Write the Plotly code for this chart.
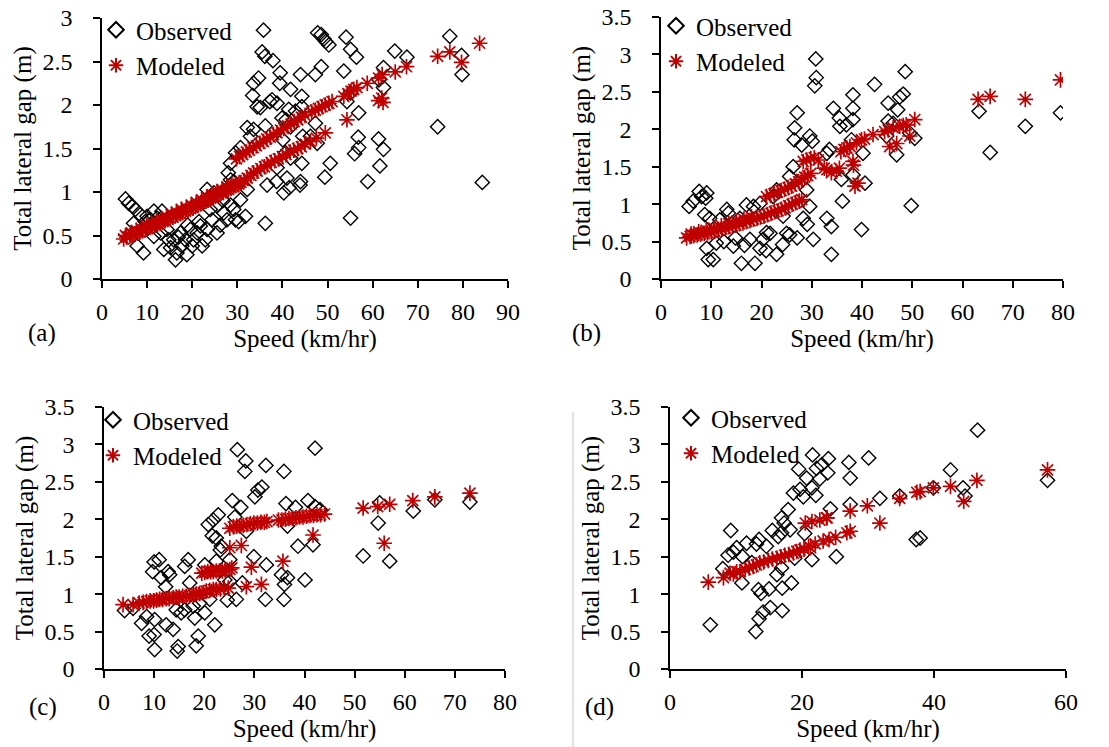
import plotly.graph_objects as go

# ---------------- DATA ----------------
# Panel (a)
obs_a_speed = [35.8, 47.8, 48.6, 49.2, 49.6, 50.3, 54.1, 55.1, 56.4, 64.9, 67.6, 77.1, 79.7, 79.8, 74.4, 84.3,
               62.4, 62.4, 61.4, 61.3, 62.4, 61.6, 58.9, 55.1, 56.9, 56.8, 56.9, 56.0, 53.6, 54.3, 50.6, 49.4,
               55.1, 47.3, 48.6, 47.3, 47.7, 46.2, 44.3, 44.0, 44.3, 44.5, 44.3, 44.0, 43.9, 41.8, 39.5, 39.4,
               37.9, 38.8, 37.7, 37.2, 39.9, 41.4, 42.9, 40.8, 41.8, 40.1, 40.7, 41.8, 41.0, 40.3, 41.5, 38.7,
               36.6, 38.8, 36.2, 35.5, 36.1, 34.7, 33.6, 33.4, 34.4, 35.1, 36.2, 33.6, 32.2, 32.9, 30.7, 29.6,
               28.5, 28.0, 28.5, 32.2, 30.7, 31.8, 29.6, 30.3, 29.2, 28.5, 23.3, 24.8, 26.2, 24.4, 22.9, 22.2,
               18.8, 17.7, 16.3, 15.2, 13.7, 13.3, 11.5, 9.2, 7.8, 5.2, 5.9, 6.7, 7.4, 8.5, 7.0, 10.0,
               10.7, 19.6, 20.3, 21.1, 20.0, 17.4, 15.9, 23.3, 25.5, 21.8, 14.4, 13.0, 11.5, 16.6, 18.5, 27.0,
               27.7, 25.5, 29.2, 12.2, 14.8, 16.9, 19.0, 21.5, 9.6, 24.0, 26.8]
obs_a_gap = [2.86, 2.83, 2.81, 2.76, 2.73, 2.69, 2.78, 2.64, 2.55, 2.62, 2.55, 2.79, 2.57, 2.35, 1.75, 1.11,
             2.43, 2.20, 2.29, 1.61, 1.49, 1.30, 1.12, 0.70, 1.91, 1.63, 1.51, 1.44, 2.39, 2.04, 1.33, 1.17,
             2.14, 2.35, 2.44, 1.79, 1.56, 1.64, 2.10, 2.35, 1.98, 1.64, 1.33, 1.12, 1.08, 2.18, 2.37, 2.25,
             2.51, 2.02, 2.06, 2.04, 1.85, 1.95, 1.93, 1.83, 1.75, 1.60, 1.45, 1.39, 1.16, 0.99, 1.05, 1.12,
             1.08, 1.28, 0.64, 2.61, 2.56, 2.31, 2.25, 2.11, 1.98, 1.97, 1.76, 1.72, 1.74, 1.64, 1.51, 1.45,
             1.33, 1.22, 1.14, 1.03, 0.91, 0.72, 0.68, 0.66, 0.80, 0.85, 1.03, 0.99, 0.62, 0.68, 0.45, 0.38,
             0.28, 0.38, 0.22, 0.36, 0.34, 0.78, 0.78, 0.30, 0.38, 0.92, 0.87, 0.84, 0.80, 0.74, 0.64, 0.72,
             0.68, 0.57, 0.45, 0.53, 0.38, 0.53, 0.45, 0.57, 0.53, 0.61, 0.57, 0.53, 0.49, 0.30, 0.45, 0.76,
             0.68, 0.84, 1.12, 0.70, 0.45, 0.48, 0.62, 0.66, 0.66, 0.80, 0.90]
mod_a_speed = [4.8, 5.5, 6.2, 6.8, 7.3, 7.9, 8.4, 9.0, 9.6, 10.1, 10.7, 11.2, 11.8, 12.3, 12.9, 13.5, 14.0,
               14.6, 15.1, 15.7, 16.3, 16.8, 17.4, 17.9, 18.5, 19.1, 19.6, 20.2, 20.8, 21.3, 21.9, 22.4,
               23.0, 23.6, 24.1, 24.7, 25.2, 25.8, 26.4, 26.9, 27.5, 28.0, 28.6, 29.2, 29.7, 30.3,
               5.2, 6.5, 7.6, 8.7, 9.9, 11.0, 12.1, 13.2, 14.3, 15.4, 16.5, 17.6, 18.7, 19.8, 20.9, 22.1,
               23.2, 24.4, 25.5, 26.6, 27.7, 28.8,
               30.8, 31.5, 32.2, 33.0, 33.6, 34.4, 35.2, 36.0, 36.6, 37.5, 38.3, 39.1, 40.0, 40.8, 41.7,
               42.5, 43.4, 44.2, 45.0, 46.2, 47.5, 49.5,
               29.8, 30.5, 31.2, 32.0, 32.7, 33.5, 34.2, 35.0, 35.8, 36.5, 37.3, 38.0, 38.8, 39.6, 40.3,
               41.1, 41.9, 42.6, 43.4, 44.2, 45.0, 46.5, 47.3, 48.0, 48.8, 49.5, 50.3, 51.0, 53.6, 54.5,
               55.2, 55.8, 56.5, 58.8, 61.3, 62.1, 65.0, 67.5, 74.4, 77.1, 79.7, 83.7,
               54.3, 61.3, 62.0, 62.3]
mod_a_gap = [0.46, 0.48, 0.49, 0.51, 0.52, 0.53, 0.54, 0.56, 0.57, 0.58, 0.60, 0.61, 0.62, 0.63, 0.65, 0.66,
             0.67, 0.69, 0.70, 0.71, 0.73, 0.74, 0.75, 0.77, 0.78, 0.79, 0.81, 0.82, 0.84, 0.85, 0.87, 0.88,
             0.90, 0.91, 0.93, 0.94, 0.96, 0.97, 0.99, 1.00, 1.02, 1.03, 1.05, 1.06, 1.08, 1.09,
             0.50, 0.53, 0.56, 0.58, 0.61, 0.64, 0.66, 0.69, 0.72, 0.74, 0.77, 0.80, 0.82, 0.85, 0.88, 0.91,
             0.94, 0.97, 1.00, 1.03, 1.06, 1.09,
             1.11, 1.13, 1.16, 1.19, 1.22, 1.24, 1.27, 1.29, 1.31, 1.34, 1.36, 1.38, 1.41, 1.43, 1.46,
             1.48, 1.50, 1.52, 1.55, 1.58, 1.62, 1.68,
             1.38, 1.41, 1.43, 1.46, 1.48, 1.51, 1.53, 1.56, 1.58, 1.61, 1.63, 1.66, 1.68, 1.71, 1.73,
             1.76, 1.78, 1.81, 1.83, 1.86, 1.88, 1.92, 1.94, 1.96, 1.98, 2.00, 2.02, 2.04, 2.10, 2.13,
             2.16, 2.18, 2.20, 2.25, 2.31, 2.35, 2.38, 2.44, 2.56, 2.61, 2.49, 2.71,
             1.83, 2.05, 2.08, 2.03]

# Panel (b)
obs_b_speed = [30.8, 30.9, 30.6, 42.5, 48.6, 48.2, 47.5, 45.2, 47.1, 45.2, 46.2, 50.5, 49.5, 46.9, 49.8,
               38.2, 38.2, 38.2, 34.3, 35.5, 35.6, 36.9, 37.9, 33.5, 33.0, 35.9, 38.2, 40.6, 36.1, 33.0,
               33.9, 33.9, 39.9, 40.2, 27.1, 26.6, 26.5, 28.0, 29.6, 30.1, 26.3, 25.6, 29.0, 29.6, 28.3,
               29.1, 30.3, 27.1, 25.6, 24.2, 23.0, 21.7, 20.3, 19.7, 20.9, 18.7, 16.0, 17.7, 17.0, 19.7,
               18.4, 15.7, 14.4, 13.1, 13.4, 11.7, 10.4, 9.4, 9.1, 8.7, 9.7, 8.1, 7.6, 9.1, 8.9, 6.4, 5.6,
               23.0, 22.3, 24.3, 25.0, 63.3, 65.5, 72.5, 79.5, 44.9, 12.5, 14.8, 16.6, 21.0, 11.0]
obs_b_gap = [2.94, 2.69, 2.58, 2.60, 2.77, 2.47, 2.43, 2.35, 2.26, 2.11, 2.08, 1.88, 1.95, 1.66, 0.98,
             2.46, 2.28, 2.13, 2.28, 2.15, 2.04, 2.06, 1.86, 1.73, 1.68, 1.33, 1.39, 1.28, 1.04, 0.81,
             0.70, 0.33, 0.66, 1.68, 2.22, 2.02, 1.86, 1.79, 1.91, 1.84, 1.50, 1.37, 1.19, 0.97, 0.81,
             0.73, 0.53, 0.55, 0.59, 0.46, 0.33, 0.61, 0.53, 0.41, 0.38, 0.21, 0.21, 0.53, 0.99, 1.01,
             0.97, 0.81, 0.44, 0.93, 0.88, 0.79, 0.26, 0.26, 0.41, 0.86, 0.81, 1.10, 1.17, 1.15, 1.08, 1.04, 0.97,
             1.19, 1.10, 0.84, 0.61, 2.24, 1.69, 2.04, 2.22, 1.91, 0.50, 0.55, 0.45, 0.62, 0.48]
mod_b_speed = [5.1, 5.8, 6.5, 7.2, 7.9, 8.6, 9.3, 10.0, 10.7, 11.4, 12.1, 12.8, 13.5, 14.2, 14.9, 15.6, 16.3,
               17.0, 17.7, 18.4, 19.1, 19.8, 20.5, 21.2, 21.9, 22.6, 23.3, 24.0, 24.7, 25.4, 26.1, 26.8,
               27.5, 28.0, 6.0, 7.5, 9.0, 10.5, 12.0, 13.5, 15.0, 16.5, 18.0,
               21.0, 21.8, 22.5, 23.2, 23.9, 24.6, 25.3, 26.0, 26.7, 27.4, 28.0, 28.6, 29.2, 29.8,
               28.3, 29.0, 29.8, 30.5, 31.3, 32.5, 33.0, 33.9, 34.9, 35.5, 35.8, 36.4, 37.0, 37.6, 38.2,
               38.3, 38.6, 39.2, 38.9, 39.9, 40.5, 42.2, 44.5, 45.2, 45.5, 46.2, 46.9, 47.5, 48.2, 48.8,
               49.5, 50.5, 63.1, 65.5, 72.5, 79.5]
mod_b_gap = [0.55, 0.57, 0.58, 0.59, 0.60, 0.61, 0.62, 0.63, 0.64, 0.66, 0.67, 0.68, 0.70, 0.71, 0.72, 0.74,
             0.75, 0.77, 0.78, 0.80, 0.81, 0.83, 0.84, 0.86, 0.88, 0.90, 0.91, 0.93, 0.95, 0.98, 1.00,
             1.02, 1.04, 1.06, 0.60, 0.63, 0.65, 0.68, 0.71, 0.74, 0.77, 0.80, 0.83,
             1.10, 1.12, 1.14, 1.16, 1.18, 1.20, 1.22, 1.24, 1.27, 1.30, 1.33, 1.36, 1.38, 1.41,
             1.57, 1.59, 1.61, 1.62, 1.59, 1.48, 1.46, 1.42, 1.44, 1.48, 1.70, 1.73, 1.75, 1.77, 1.57,
             1.52, 1.24, 1.28, 1.82, 1.86, 1.87, 1.93, 1.97, 1.99, 1.77, 2.02, 1.81, 2.04, 2.05, 2.06,
             1.91, 2.13, 2.40, 2.44, 2.40, 2.66]

# Panel (c)
obs_c_speed = [26.6, 42.1, 28.3, 28.1, 32.3, 35.9, 31.5, 30.7, 30.1, 25.6, 27.3, 26.1, 36.3, 38.2, 40.7,
               42.1, 43.1, 36.6, 28.4, 22.8, 21.8, 20.8, 21.6, 22.4, 23.4, 23.2, 38.7, 41.7, 51.7, 54.7,
               57.0, 55.0, 61.7, 66.0, 73.0, 35.4, 36.6, 36.0, 40.1, 35.9, 32.2, 32.4, 29.9, 27.6, 26.4,
               24.6, 25.1, 25.1, 22.4, 20.1, 22.1, 20.1, 18.8, 18.4, 14.8, 14.6, 13.8, 12.4, 10.1, 10.0,
               9.0, 7.5, 8.5, 10.1, 4.1, 5.8, 9.7, 10.0, 11.0, 11.4, 12.8, 13.1, 12.3, 16.1, 16.8, 17.1,
               14.4, 15.4, 16.1, 18.1, 17.8, 19.1, 21.1, 24.1]
obs_c_gap = [2.93, 2.95, 2.78, 2.64, 2.72, 2.64, 2.43, 2.39, 2.30, 2.25, 2.16, 2.03, 2.21, 2.16, 2.25,
             2.17, 2.13, 1.91, 1.84, 2.06, 1.99, 1.93, 1.78, 1.75, 1.64, 1.59, 1.64, 1.66, 1.51, 1.95,
             1.44, 2.22, 2.11, 2.26, 2.23, 1.26, 1.22, 1.13, 1.19, 0.93, 0.93, 1.39, 1.50, 1.15, 0.93,
             0.92, 1.17, 1.46, 1.44, 1.39, 0.59, 0.75, 0.44, 0.31, 0.30, 0.24, 0.53, 0.59, 0.26, 0.46,
             0.44, 0.61, 0.70, 0.66, 0.78, 0.81, 1.30, 1.43, 1.46, 1.22, 1.30, 1.26, 1.10, 1.37, 1.46, 1.15,
             0.79, 0.75, 0.79, 0.68, 0.84, 0.88, 0.93, 1.19]
mod_c_speed = [3.8, 5.8, 7.0, 7.8, 8.5, 9.2, 9.9, 10.5, 11.1, 11.7, 12.4, 13.0, 13.8, 14.4, 15.0, 15.7, 16.4,
               17.1, 17.8, 18.4, 19.1, 19.8, 20.4, 21.1, 21.8, 22.4, 23.2, 24.0, 24.8,
               19.5, 20.1, 20.7, 21.3, 21.8, 22.4, 23.0, 23.6, 24.2, 25.1, 25.5,
               25.1, 27.4, 29.4, 28.4, 31.4, 35.7, 41.7, 55.9,
               25.1, 25.8, 26.5, 27.1, 27.8, 28.5, 29.2, 29.9, 30.6, 31.3, 32.0, 32.5, 34.8, 35.5, 36.2,
               36.9, 37.6, 38.3, 39.0, 39.7, 40.4, 41.1, 41.8, 42.5, 43.2, 44.0, 51.7, 54.6, 57.0, 61.6,
               66.0, 73.0]
mod_c_gap = [0.86, 0.86, 0.88, 0.89, 0.90, 0.91, 0.91, 0.92, 0.93, 0.93, 0.94, 0.94, 0.95, 0.96, 0.96, 0.97,
             0.97, 0.98, 0.99, 1.00, 1.01, 1.02, 1.04, 1.05, 1.06, 1.06, 1.07, 1.08, 1.08,
             1.28, 1.29, 1.30, 1.30, 1.30, 1.31, 1.31, 1.31, 1.32, 1.33, 1.35,
             1.62, 1.65, 1.36, 1.10, 1.13, 1.44, 1.79, 1.68,
             1.88, 1.90, 1.91, 1.91, 1.92, 1.93, 1.94, 1.95, 1.95, 1.96, 1.96, 1.97, 1.99, 1.99, 2.00,
             2.01, 2.01, 2.02, 2.03, 2.03, 2.04, 2.05, 2.05, 2.06, 2.06, 2.07, 2.15, 2.17, 2.20, 2.25,
             2.30, 2.35]

# Panel (d)
obs_d_speed = [46.6, 21.6, 24.0, 30.1, 27.1, 23.0, 22.2, 19.5, 42.5, 23.9, 20.7, 27.3, 22.7, 57.2, 21.5,
               44.4, 39.9, 18.7, 19.7, 20.2, 22.1, 31.8, 34.8, 44.7, 27.3, 24.3, 17.9, 16.9, 17.3, 20.4,
               15.5, 16.4, 16.9, 37.3, 37.9, 9.2, 13.5, 13.1, 11.6, 14.6, 10.1, 9.6, 8.8, 11.0, 18.9,
               21.5, 25.2, 8.0, 16.9, 16.2, 10.9, 18.4, 17.0, 15.0, 13.4, 13.8, 15.2, 14.1, 17.0, 13.5,
               13.0, 6.1, 12.4, 18.2]
obs_d_gap = [3.19, 2.86, 2.81, 2.82, 2.76, 2.73, 2.68, 2.67, 2.66, 2.62, 2.55, 2.55, 2.54, 2.52, 2.42,
             2.42, 2.42, 2.35, 2.40, 2.30, 2.32, 2.28, 2.31, 2.31, 2.20, 2.14, 2.13, 2.02, 1.95, 1.81,
             1.85, 1.77, 1.82, 1.73, 1.75, 1.85, 1.73, 1.67, 1.68, 1.64, 1.62, 1.56, 1.52, 1.50, 1.48,
             1.46, 1.50, 1.34, 1.35, 1.26, 1.15, 1.15, 1.08, 1.07, 1.06, 1.01, 0.82, 0.76, 0.78, 0.67,
             0.50, 0.59, 1.42, 1.86]
mod_d_speed = [5.8, 8.1, 9.1, 10.1, 11.4, 12.6, 13.6, 14.9, 16.2, 17.4, 18.7, 19.7, 21.0, 22.0, 23.2, 24.1,
               25.1, 26.8, 27.3, 20.5, 21.5, 22.7, 23.7, 27.3, 29.9, 31.8, 34.8, 37.4, 37.9, 39.9, 42.5,
               44.5, 46.5, 57.2, 9.6, 10.6, 12.0, 13.1, 14.2, 15.5, 16.8, 18.0, 19.2, 20.3, 21.3, 23.8]
mod_d_gap = [1.16, 1.22, 1.28, 1.30, 1.33, 1.37, 1.42, 1.45, 1.48, 1.52, 1.55, 1.59, 1.64, 1.67, 1.71, 1.73,
             1.76, 1.82, 1.84, 1.95, 1.97, 1.99, 2.02, 2.11, 2.18, 1.95, 2.28, 2.36, 2.37, 2.42, 2.44,
             2.24, 2.52, 2.66, 1.27, 1.30, 1.35, 1.39, 1.43, 1.47, 1.50, 1.53, 1.57, 1.60, 1.62, 2.02]

x_ranges = [[0, 90], [0, 80], [0, 80], [0, 60]]
x_dticks = [10, 10, 10, 20]
y_ranges = [[0, 3], [0, 3.5], [0, 3.5], [0, 3.5]]
panel_labels = ["(a)", "(b)", "(c)", "(d)"]
legend_names = ["Observed", "Modeled"]

# ---------------- STYLE ----------------
FONT = "Liberation Serif"
RED = "#C00000"
W, H = 1109, 747

# plot area pixel boxes (left, right, top, bottom)
boxes = [(102, 508, 18, 279), (661, 1063, 17, 279), (104, 505, 407, 669), (670, 1066, 407, 669)]
legend_pos = [(96, 7), (656, 3), (93, 397), (671, 395)]
label_pos = [(26, 333), (586, 333), (27, 723), (600, 723)]

obs = [(obs_a_speed, obs_a_gap), (obs_b_speed, obs_b_gap), (obs_c_speed, obs_c_gap), (obs_d_speed, obs_d_gap)]
mod = [(mod_a_speed, mod_a_gap), (mod_b_speed, mod_b_gap), (mod_c_speed, mod_c_gap), (mod_d_speed, mod_d_gap)]

fig = go.Figure()
layout = dict(
    width=W, height=H, margin=dict(l=0, r=0, t=0, b=0, autoexpand=False),
    paper_bgcolor="white", plot_bgcolor="white",
    font=dict(family=FONT, size=24, color="black"),
    showlegend=True, annotations=[], shapes=[],
)

for i in range(4):
    sfx = "" if i == 0 else str(i + 1)
    l, r, t, b = boxes[i]
    xa = dict(domain=[l / W, r / W], range=x_ranges[i], dtick=x_dticks[i], tick0=0,
              anchor="y" + sfx, showline=True, linecolor="black", linewidth=1.5,
              ticks="outside", ticklen=7, tickwidth=1.5, tickcolor="black", automargin=False,
              showgrid=False, zeroline=False, tickfont=dict(size=24, family=FONT),
              ticklabelstandoff=3,
              title=dict(text="Speed (km/hr)", font=dict(size=25, family=FONT), standoff=6))
    ya = dict(domain=[1 - b / H, 1 - t / H], range=y_ranges[i], dtick=0.5, tick0=0,
              anchor="x" + sfx, showline=True, linecolor="black", linewidth=1.5,
              ticks="outside", ticklen=7, tickwidth=1.5, tickcolor="black", automargin=False,
              showgrid=False, zeroline=False, tickfont=dict(size=24, family=FONT),
              ticklabelstandoff=16,
              title=dict(text="Total lateral gap (m)", font=dict(size=25, family=FONT), standoff=4))
    layout["xaxis" + sfx] = xa
    layout["yaxis" + sfx] = ya
    lg = "legend" + sfx
    lx, ly = legend_pos[i]
    layout[lg] = dict(x=lx / W, y=1 - ly / H, xanchor="left", yanchor="top",
                      bgcolor="rgba(0,0,0,0)", font=dict(size=25, family=FONT),
                      tracegroupgap=0, itemsizing="constant")
    fig.add_trace(go.Scatter(
        x=obs[i][0], y=obs[i][1], mode="markers", name=legend_names[0],
        xaxis="x" + sfx, yaxis="y" + sfx, legend=lg,
        marker=dict(symbol="diamond-open", size=11, color="black", line=dict(width=1.4, color="black"))))
    fig.add_trace(go.Scatter(
        x=mod[i][0], y=mod[i][1], mode="markers", name=legend_names[1],
        xaxis="x" + sfx, yaxis="y" + sfx, legend=lg,
        marker=dict(symbol="asterisk-open", size=13, color=RED, line=dict(width=1.7, color=RED))))
    px, py = label_pos[i]
    layout["annotations"].append(dict(text=panel_labels[i], x=px / W, y=1 - py / H, xref="paper", yref="paper",
                                      showarrow=False, font=dict(size=25, family=FONT)))

layout["shapes"].append(dict(type="line", xref="paper", yref="paper", x0=573 / W, x1=573 / W,
                             y0=0, y1=1 - 412 / H, line=dict(color="#e3e3e3", width=2.5)))

fig.update_layout(**layout)
fig.write_html("out.html")
